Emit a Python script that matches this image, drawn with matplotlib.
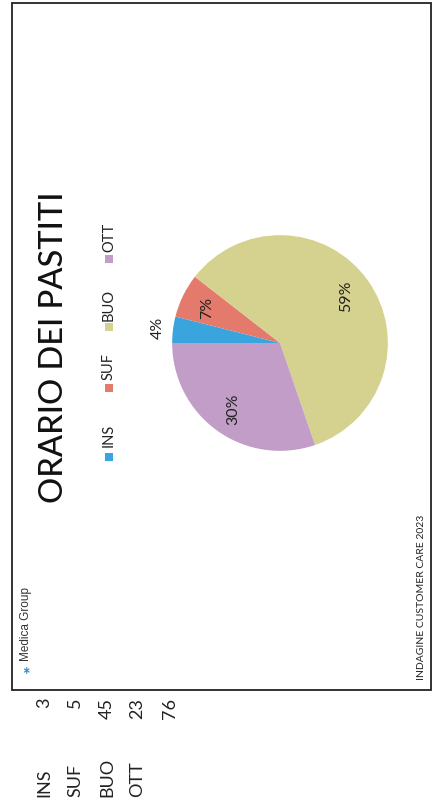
import numpy as np
import matplotlib
matplotlib.use('Agg')
import matplotlib.pyplot as plt
from matplotlib.patches import Rectangle

categorie = ['INS', 'SUF', 'BUO', 'OTT']
valori = [3, 5, 45, 23]
totale = 76
colori = ['#3aa4df', '#e37a6b', '#d5d18e', '#c29dc8']
titolo = 'ORARIO DEI PASTITI'
sottotitolo = 'INDAGINE CUSTOMER CARE 2023'

W, H = 437, 809
plt.rcParams['font.family'] = ['Lato', 'DejaVu Sans']
fig = plt.figure(figsize=(W / 100, H / 100), dpi=100)
fig.patch.set_facecolor('white')

def fx(x):
    return x / W

def fy(y):
    return 1 - y / H

# cornice del grafico
fig.add_artist(Rectangle((fx(12), fy(690)), fx(431) - fx(12), fy(3) - fy(690),
                         transform=fig.transFigure, fill=False, ec='#222222', lw=1.3))

# titolo e legenda (ruotati)
fig.text(fx(54), fy(347), titolo, rotation=90, ha='center', va='center',
         fontsize=23.5, color='#111111', weight='medium')
leg_y = [435, 366, 305, 237]
for i, c in enumerate(categorie):
    fig.text(fx(109), fy(leg_y[i]), c, rotation=90, ha='center', va='center',
             fontsize=10.5, color='#222222')
    fig.add_artist(Rectangle((fx(105), fy(leg_y[i] + 26)), fx(8), fy(0) - fy(8),
                             transform=fig.transFigure, color=colori[i], lw=0))

# torta
ax = fig.add_axes([fx(170), fy(453), fx(220), fy(0) - fy(220)])
wedges, texts, autotexts = ax.pie(valori, colors=colori, startangle=180, counterclock=False,
                                  autopct='%1.0f%%', pctdistance=0.75,
                                  textprops=dict(rotation=90, fontsize=11.5, color='#222222'))
x0, y0 = autotexts[0].get_position()
autotexts[0].set_position((x0 * 1.14 / 0.75, y0 * 1.14 / 0.75))
ax.set_xlim(-1.02, 1.02)
ax.set_ylim(-1.02, 1.02)
ax.set_aspect('equal')
ax.axis('off')

fig.text(fx(421), fy(597), sottotitolo, rotation=90, ha='center', va='center',
         fontsize=7.5, color='#222222')

# logo
fig.text(fx(26), fy(624), 'Medica Group', rotation=90, ha='center', va='center',
         fontsize=8.5, color='#333333', family='Liberation Sans')
fig.text(fx(26), fy(675), '*', rotation=0, ha='center', va='center',
         fontsize=13, color='#2e86c8', weight='bold')

# tabella dati
tab_x = [44, 75, 107, 137, 170]
for i, c in enumerate(categorie):
    fig.text(fx(tab_x[i]), fy(797), c, rotation=90, ha='center', va='bottom',
             fontsize=13, color='#222222')
for i, v in enumerate(valori + [totale]):
    fig.text(fx(tab_x[i]), fy(698), str(v), rotation=90, ha='center', va='top',
             fontsize=13, color='#222222')

fig.savefig('out.png', dpi=100)
